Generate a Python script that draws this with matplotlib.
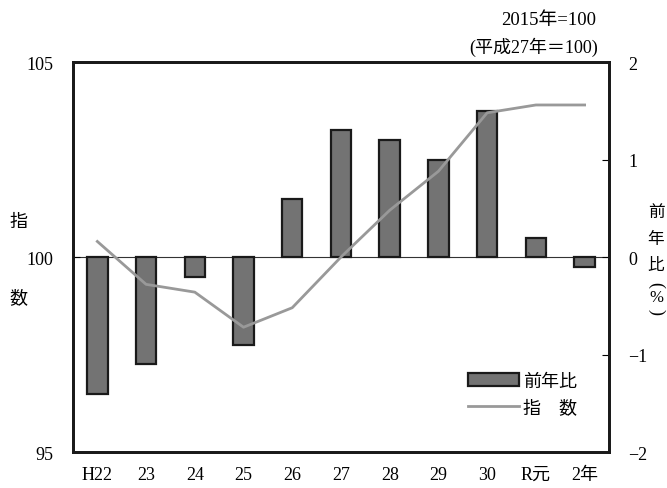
import matplotlib
matplotlib.use("Agg")
import matplotlib.pyplot as plt
from matplotlib.patches import Patch
from matplotlib.lines import Line2D

plt.rcParams['font.family'] = ['Liberation Serif', 'Noto Sans CJK JP', 'DejaVu Sans']

categories = ["H22", "23", "24", "25", "26", "27", "28", "29", "30", "R元", "2年"]
yoy = [-1.4, -1.1, -0.2, -0.9, 0.6, 1.3, 1.2, 1.0, 1.5, 0.2, -0.1]
index = [100.4, 99.3, 99.1, 98.2, 98.7, 100.0, 101.2, 102.2, 103.7, 103.9, 103.9]
left_ticks = [95, 100, 105]
right_ticks = [-2, -1, 0, 1, 2]
right_labels = ["−2", "−1", "0", "1", "2"]

fig = plt.figure(figsize=(6.67, 4.89), dpi=100)
ax = fig.add_axes([0.1094, 0.0736, 0.8036, 0.7974])
ax2 = ax.twinx()

x = list(range(len(categories)))
ax2.bar(x, yoy, width=0.42, color="#737373", edgecolor="#1a1a1a", linewidth=1.6, zorder=2)
ax2.axhline(0, color="#333333", linewidth=0.8, zorder=1)
ax.plot(x, index, color="#999999", linewidth=2.0, zorder=3)

ax.set_zorder(ax2.get_zorder() + 1)
ax.patch.set_visible(False)

ax.set_xlim(-0.5, len(categories) - 0.5)
ax.set_ylim(95, 105)
ax2.set_ylim(-2, 2)
ax.set_yticks(left_ticks)
ax.set_yticklabels([str(t) for t in left_ticks], fontsize=13)
ax2.set_yticks(right_ticks)
ax2.set_yticklabels(right_labels, fontsize=13)
ax.set_xticks(x)
ax.set_xticklabels(categories, fontsize=13)
ax.tick_params(axis='x', length=0, pad=10)
ax.tick_params(axis='y', direction='in', length=5, pad=14)
ax2.tick_params(axis='y', direction='in', length=5, pad=14)

for a in (ax, ax2):
    for s in a.spines.values():
        s.set_linewidth(2.0)
        s.set_color("#1a1a1a")

fig.text(0.027, 0.545, "指", fontsize=13, ha='center', va='center')
fig.text(0.027, 0.39, "数", fontsize=13, ha='center', va='center')

xr = 656 / 667
for ch, yy in [("前", 213), ("年", 240), ("比", 266)]:
    fig.text(xr, 1 - yy / 489, ch, fontsize=12, ha='center', va='center')
fig.text(xr, 1 - 285 / 489, "(", fontsize=13, ha='center', va='center', rotation=-90)
fig.text(xr, 1 - 298.5 / 489, "%", fontsize=12, ha='center', va='center')
fig.text(xr, 1 - 312 / 489, ")", fontsize=13, ha='center', va='center', rotation=-90)

fig.text(0.893, 0.959, "2015年=100", fontsize=13.5, ha='right', va='center')
fig.text(0.896, 0.904, "(平成27年＝100)", fontsize=13, ha='right', va='center')

handles = [Patch(facecolor="#737373", edgecolor="#1a1a1a", linewidth=1.6),
           Line2D([0], [0], color="#999999", linewidth=2.0)]
fig.legend(handles, ["前年比", "指　数"], loc='center left',
           bbox_to_anchor=(468 / 667, 1 - 395.5 / 489), bbox_transform=fig.transFigure,
           frameon=False, fontsize=13, handlelength=2.8, handletextpad=0.25,
           labelspacing=0.55, borderpad=0, borderaxespad=0)

fig.savefig("out.png", dpi=100)
